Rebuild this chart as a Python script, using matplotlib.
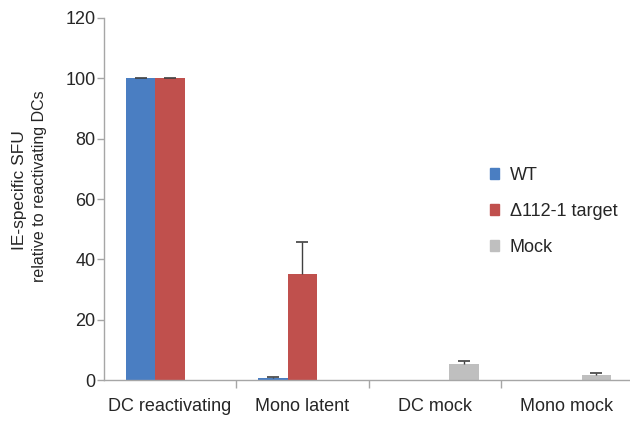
import numpy as np
import matplotlib
matplotlib.use("Agg")
import matplotlib.pyplot as plt
import matplotlib.patches as mpatches

plt.rcParams['font.family'] = ['Liberation Sans', 'DejaVu Sans']

categories = ["DC reactivating", "Mono latent", "DC mock", "Mono mock"]
series_names = ["WT", "\u0394112-1 target", "Mock"]
wt_values = [100, 0.8, np.nan, np.nan]
wt_err = [0.2, 0.2, np.nan, np.nan]
delta_values = [100, 35, np.nan, np.nan]
delta_err = [0.2, 10.7, np.nan, np.nan]
mock_values = [np.nan, np.nan, 5.4, 1.5]
mock_err = [np.nan, np.nan, 1.0, 0.9]
y_ticks = [0, 20, 40, 60, 80, 100, 120]

colors = ["#4A7EC2", "#C0504D", "#BFBFBF"]
spine_color = "#A6A6A6"
text_color = "#262626"
err_color = "#404040"

fig = plt.figure(figsize=(6.30, 4.44), dpi=100)
ax = fig.add_axes([104 / 630, 64 / 444, 529 / 630, 362 / 444])

x = np.arange(len(categories))
width = 0.2235
all_values = [wt_values, delta_values, mock_values]
all_err = [wt_err, delta_err, mock_err]
for i, (vals, errs) in enumerate(zip(all_values, all_err)):
    pos = x + (i - 1) * width
    vals = np.array(vals, dtype=float)
    errs = np.array(errs, dtype=float)
    ax.bar(pos, np.nan_to_num(vals), width, color=colors[i], label=series_names[i])
    ok = ~np.isnan(vals)
    # upper error only (Excel style): stem + cap on top
    ax.errorbar(pos[ok], vals[ok], yerr=[np.zeros(ok.sum()), errs[ok]], fmt='none',
                ecolor=err_color, elinewidth=1, capsize=0)
    ax.plot(pos[ok], vals[ok] + errs[ok], linestyle='none', marker='_',
            markersize=8, markeredgewidth=1.2, color=err_color)

ax.set_xlim(-0.5, 3.5)
ax.set_ylim(0, 120)
ax.set_yticks(y_ticks)
ax.set_xticks(x)
ax.set_xticklabels(categories)
ax.set_xticks([0.5, 1.5, 2.5, 3.5], minor=True)

for side in ["top", "right"]:
    ax.spines[side].set_visible(False)
for side in ["left", "bottom"]:
    ax.spines[side].set_color(spine_color)
    ax.spines[side].set_linewidth(1)

ax.tick_params(axis='y', direction='out', length=5, width=1, color=spine_color,
               labelsize=13, labelcolor=text_color, pad=1)
ax.tick_params(axis='x', which='major', length=0, labelsize=13, labelcolor=text_color, pad=13)
ax.tick_params(axis='x', which='minor', direction='out', length=6, width=1, color=spine_color)

fig.text(20 / 630, 1 - 190 / 444, "IE-specific SFU", rotation=90, fontsize=12.5,
         ha='center', va='center', color=text_color)
fig.text(40 / 630, 1 - 186 / 444, "relative to reactivating DCs", rotation=90, fontsize=11.5,
         ha='center', va='center', color=text_color)

handles = [mpatches.Patch(color=c, label=n) for c, n in zip(colors, series_names)]
ax.legend(handles=handles, loc='upper left', bbox_to_anchor=(490 / 630, 1 - 167 / 444),
          bbox_transform=fig.transFigure, frameon=False, fontsize=13,
          handlelength=0.5, handleheight=0.5, handletextpad=0.6, labelspacing=1.05,
          labelcolor=text_color, borderaxespad=0, borderpad=0)

fig.savefig("out.png", dpi=100)
